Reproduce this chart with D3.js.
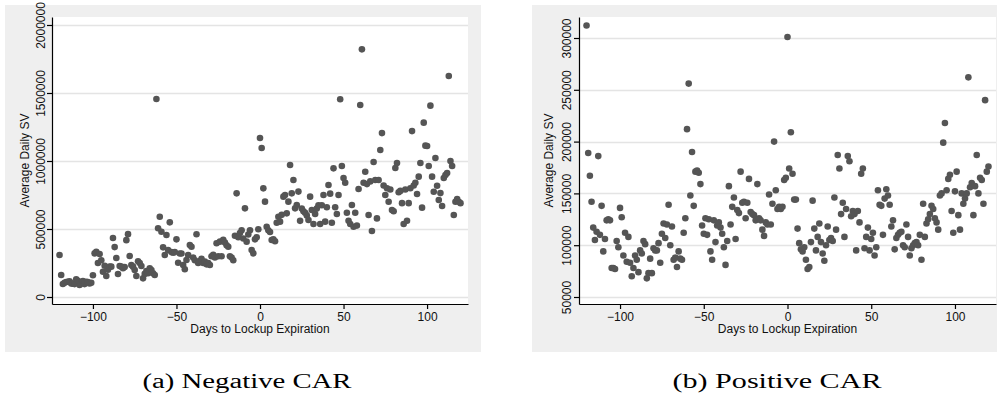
<!DOCTYPE html>
<html><head><meta charset="utf-8">
<script src="https://cdn.jsdelivr.net/npm/d3@7"></script>
<style>body{margin:0;background:#fff}</style>
</head><body><svg id="c" width="997" height="400"></svg>
<script>
// Days relative to lockup expiration (x categories)
const days = d3.range(-120, 121);

// Panel (a) Negative CAR: average daily SV, one value per day -120..120
const negCAR = [
309000,162000,96000,105000,110000,112000,115000,100000,98000,95000,130000,120000,88000,100000,118000,95000,112000,110000,100000,105000,
160000,321000,333000,250000,316000,270000,186000,230000,154000,200000,223000,223000,434000,367000,287000,169000,228000,223000,211000,221000,
418000,462000,301000,235000,223000,199000,154000,262000,250000,228000,137000,170000,190000,175000,211000,198000,175000,162000,1456000,505000,
590000,480000,365000,309000,456000,345000,549000,330000,325000,330000,424000,252000,320000,320000,235000,204000,272000,309000,382000,370000,
290000,270000,461000,250000,265000,280000,250000,260000,240000,250000,235000,300000,310000,290000,395000,300000,407000,300000,420000,400000,
380000,370000,300000,290000,270000,450000,762000,440000,470000,490000,430000,652000,407000,460000,490000,345000,321000,424000,439000,498000,
1169000,1096000,799000,701000,517000,490000,478000,419000,424000,410000,546000,590000,554000,604000,738000,750000,615000,701000,971000,762000,
860000,652000,676000,775000,560000,650000,630000,620000,600000,566000,738000,640000,537000,610000,650000,675000,537000,675000,750000,554000,
660000,823000,760000,546000,946000,660000,610000,750000,1454000,963000,875000,840000,620000,560000,537000,676000,517000,620000,525000,794000,
1412000,1821000,840000,921000,830000,603000,850000,485000,993000,860000,578000,860000,1081000,1205000,820000,750000,800000,700000,790000,640000,
630000,948000,985000,770000,780000,690000,537000,790000,561000,690000,800000,1220000,820000,840000,757000,885000,985000,657000,1282000,1113000,
1110000,963000,1407000,885000,774000,1022000,818000,713000,764000,669000,875000,897000,911000,1625000,1000000,963000,603000,700000,720000,700000,690000
];

// Panel (b) Positive CAR
const posCAR = [
312000,189000,167000,142000,117000,105000,113000,186000,110000,138000,94000,106000,124000,125000,124000,78000,78000,77000,104000,98000,
136000,127000,90000,112000,84000,108000,83000,70000,78000,90000,86000,74000,95000,92000,104000,101000,68000,73000,87000,73000,
97000,95000,95000,102000,83000,111000,121000,107000,120000,139000,100000,118000,86000,88000,79000,94000,87000,86000,112000,126000,
212000,256000,148000,190000,138000,171000,172000,170000,159000,119000,111000,126000,110000,125000,94000,86000,124000,103000,119000,122000,
117000,111000,98000,81000,104000,157000,120000,137000,146000,106000,134000,131000,171000,141000,142000,126000,141000,164000,132000,130000,
129000,124000,159000,126000,124000,115000,109000,122000,120000,149000,120000,140000,200000,153000,135000,137000,135000,137000,163000,165000,
301000,174000,209000,169000,144000,144000,116000,102000,96000,94000,98000,86000,77000,79000,103000,143000,116000,95000,108000,121000,
103000,92000,85000,100000,118000,105000,107000,104000,146000,115000,187000,174000,130000,141000,108000,135000,186000,181000,128000,133000,
130000,95000,133000,122000,169000,174000,97000,108000,117000,95000,106000,112000,90000,98000,153000,139000,138000,110000,145000,154000,
148000,139000,118000,124000,96000,107000,110000,112000,113000,100000,98000,120000,108000,90000,97000,100000,102000,103000,100000,110000,
86000,140000,108000,121000,125000,130000,138000,135000,126000,122000,115000,148000,150000,199000,218000,153000,164000,168000,133000,112000,
152000,171000,129000,115000,150000,140000,145000,150000,262000,156000,160000,129000,157000,187000,150000,165000,163000,140000,240000,171000,176000
];

const xTicks = [-100, -50, 0, 50, 100];
const negYTicks = [0, 500000, 1000000, 1500000, 2000000];
const posYTicks = [50000, 100000, 150000, 200000, 250000, 300000];
const captions = ["(a) Negative CAR", "(b) Positive CAR"];
const xTitle = "Days to Lockup Expiration";
const yTitle = "Average Daily SV";

const svg = d3.select("#c");
const FONT = "'Liberation Sans', Arial, sans-serif";

function panel(cfg) {
  const g = svg.append("g");
  g.append("rect").attr("x", cfg.bx).attr("y", 5).attr("width", cfg.bw).attr("height", 347).attr("fill", "#efefef");
  g.append("rect").attr("x", cfg.x0).attr("y", 17).attr("width", cfg.x1 - cfg.x0).attr("height", 287).attr("fill", "#fff");

  const x = d3.scaleLinear().domain([-124.5, 124.5]).range([cfg.x0, cfg.x1]);
  const y = d3.scaleLinear().domain(cfg.yd).range([304, 17]);

  g.append("g").selectAll("line").data(cfg.yt).enter().append("line")
    .attr("x1", cfg.x0).attr("x2", cfg.x1)
    .attr("y1", d => Math.round(y(d)) + 0.5).attr("y2", d => Math.round(y(d)) + 0.5)
    .attr("stroke", "#e4e4e4").attr("stroke-width", 1.3);

  g.append("g").selectAll("circle").data(cfg.vals).enter().append("circle")
    .attr("cx", (d, i) => x(days[i])).attr("cy", d => y(d))
    .attr("r", 3.3).attr("fill", "#555555");

  const xa = g.append("g").attr("transform", "translate(0,304)")
    .call(d3.axisBottom(x).tickValues(xTicks).tickSize(5).tickSizeOuter(0));
  xa.selectAll("text").attr("font-family", FONT).attr("font-size", 12).attr("fill", "#111");
  xa.selectAll("path,line").attr("stroke", "#000").attr("stroke-width", 1.2);

  const ya = g.append("g").attr("transform", `translate(${cfg.x0},0)`)
    .call(d3.axisLeft(y).tickValues(cfg.yt).tickSize(5).tickSizeOuter(0).tickFormat(d3.format("d")));
  ya.selectAll("path,line").attr("stroke", "#000").attr("stroke-width", 1.2);
  ya.selectAll("text")
    .attr("font-family", FONT).attr("font-size", 12).attr("fill", "#111")
    .attr("text-anchor", "middle").attr("dy", null)
    .attr("x", 0).attr("y", 0)
    .attr("transform", `translate(${-cfg.lblOff},0) rotate(-90)`);

  g.append("text").attr("x", (cfg.x0 + cfg.x1) / 2).attr("y", 333)
    .attr("text-anchor", "middle").attr("font-family", FONT).attr("font-size", 12).attr("fill", "#111")
    .text(xTitle);
  g.append("text")
    .attr("transform", `translate(${cfg.x0 - cfg.titleOff},${(17 + 304) / 2}) rotate(-90)`)
    .attr("text-anchor", "middle").attr("font-family", FONT).attr("font-size", 12).attr("fill", "#111")
    .text(yTitle);

  g.append("text").attr("x", cfg.capX).attr("y", 388)
    .attr("text-anchor", "middle").attr("font-family", "'Liberation Serif', 'DejaVu Serif', serif")
    .attr("font-size", 20).attr("fill", "#000")
    .attr("textLength", 209).attr("lengthAdjust", "spacingAndGlyphs")
    .text(cfg.caption);
}

panel({bx: 5, bw: 476, x0: 52, x1: 468, yd: [-51470, 2058800], yt: negYTicks, vals: negCAR,
       lblOff: 7, titleOff: 23, capX: 247, caption: captions[0]});
panel({bx: 532, bw: 470, x0: 579, x1: 996, yd: [43243, 320270], yt: posYTicks, vals: posCAR,
       lblOff: 8, titleOff: 26, capX: 777, caption: captions[1]});
</script>
</body></html>
